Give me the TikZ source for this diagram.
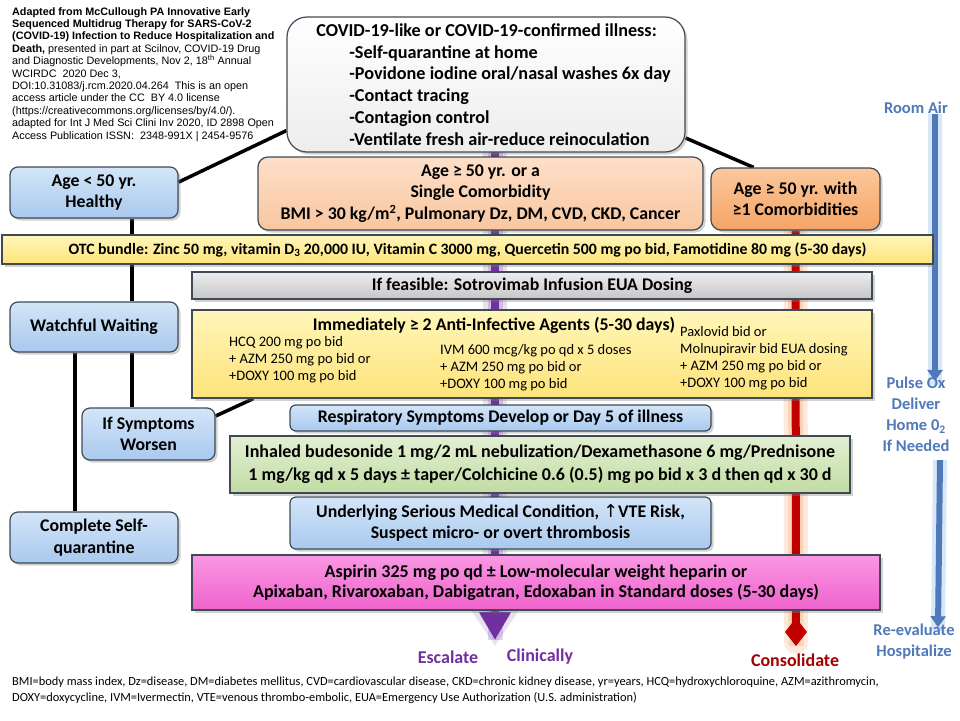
\documentclass[tikz,border=0pt]{standalone}
\usepackage{fontspec}
\setmainfont{Carlito}
\newfontfamily\arialfont{Liberation Sans}
\newfontfamily\symfont{DejaVu Sans}
\usetikzlibrary{arrows.meta,shadows,backgrounds,positioning}

\definecolor{boxline}{HTML}{3F4A55}
\definecolor{blueT}{HTML}{D3E5F8}
\definecolor{blueB}{HTML}{A9C9EE}
\definecolor{peachT}{HTML}{FDDFC8}
\definecolor{peachB}{HTML}{F9C6A0}
\definecolor{orangeT}{HTML}{FBC89C}
\definecolor{orangeB}{HTML}{F6A465}
\definecolor{yellowT}{HTML}{FFF6B8}
\definecolor{yellowB}{HTML}{FDE37A}
\definecolor{greyT}{HTML}{EDEDED}
\definecolor{greyB}{HTML}{C6C6C6}
\definecolor{greenT}{HTML}{E2EFD2}
\definecolor{greenB}{HTML}{C2DCA4}
\definecolor{pinkT}{HTML}{FA98E4}
\definecolor{pinkB}{HTML}{EE62CC}
\definecolor{escpurple}{HTML}{7030A0}
\definecolor{consred}{HTML}{C00000}
\definecolor{consglow}{HTML}{F7A262}
\definecolor{airblue}{HTML}{4F79B8}
\definecolor{airglow}{HTML}{9CC3EE}

\begin{document}
\begin{tikzpicture}[x=1pt,y=-1pt]
  \tikzstyle{every node}+=[inner sep=0pt]
  \tikzstyle{boxbase}=[draw=boxline, line width=1.2pt, align=center,
    font=\bfseries\fontsize{17.8}{21.5}\selectfont,
    drop shadow={opacity=0.35, shadow xshift=2.5pt, shadow yshift=-2.5pt}]
  \tikzstyle{bluebox}=[boxbase, rounded corners=8pt, top color=blueT, bottom color=blueB]
  \tikzstyle{peachbox}=[boxbase, rounded corners=10pt, top color=peachT, bottom color=peachB]
  \tikzstyle{orangebox}=[boxbase, rounded corners=10pt, top color=orangeT, bottom color=orangeB]
  \tikzstyle{yellowbar}=[boxbase, top color=yellowT, bottom color=yellowB]
  \tikzstyle{greybar}=[boxbase, top color=greyT, bottom color=greyB]
  \tikzstyle{greenbar}=[boxbase, top color=greenT, bottom color=greenB]
  \tikzstyle{pinkbar}=[boxbase, top color=pinkT, bottom color=pinkB]
  \tikzstyle{drugtext}=[align=left, font=\fontsize{14.5}{17}\selectfont, anchor=west]
  \tikzstyle{sidelabel}=[align=center, text=airblue, font=\bfseries\fontsize{16.5}{21}\selectfont]
  \tikzstyle{outcome}=[font=\bfseries\fontsize{18}{20}\selectfont]
  \tikzstyle{link}=[black, line width=3.5pt]

  \useasboundingbox (0,0) rectangle (960,720);

  % source note
  \node [anchor=north west, align=left, font=\arialfont\fontsize{10.8}{12.4}\selectfont] (source) at (12,7)
    {\textbf{Adapted from McCullough PA Innovative Early}\\
     \textbf{Sequenced Multidrug Therapy for SARS-CoV-2}\\
     \textbf{(COVID-19) Infection to Reduce Hospitalization and}\\
     \textbf{Death,} presented in part at Scilnov, COVID-19 Drug\\
     and Diagnostic Developments, Nov 2, 18\textsuperscript{th} Annual\\
     WCIRDC\ \ 2020 Dec 3,\\
     DOI:10.31083/j.rcm.2020.04.264\ \ This is an open\\
     access article under the CC\ \ BY 4.0 license\\
     (https://creativecommons.org/licenses/by/4.0/).\\
     adapted for Int J Med Sci Clini Inv 2020, ID 2898 Open\\
     Access Publication ISSN:\ \ 2348-991X | 2454-9576};

  % top box
  \node [boxbase, rounded corners=20pt, top color=white, bottom color=greyT, align=left,
    minimum width=398pt, minimum height=135pt, font=\bfseries\fontsize{18.2}{21.8}\selectfont] (illness) at (486,84.5)
    {\hspace*{15pt}COVID-19-like or COVID-19-confirmed illness:\\
     \hspace*{48pt}-Self-quarantine at home\\
     \hspace*{48pt}-Povidone iodine oral/nasal washes 6x day\\
     \hspace*{48pt}-Contact tracing\\
     \hspace*{48pt}-Contagion control\\
     \hspace*{48pt}-Ventilate fresh air-reduce reinoculation};

  % risk groups
  \node [bluebox, minimum width=168pt, minimum height=51pt] (young) at (94,192.5) {Age < 50 yr.\\Healthy};
  \node [peachbox, minimum width=445pt, minimum height=73pt] (single) at (480.5,193.5)
    {Age ≥ 50 yr. or a\\Single Comorbidity\\BMI > 30 kg/m\textsuperscript{2}, Pulmonary Dz, DM, CVD, CKD, Cancer};
  \node [orangebox, minimum width=169pt, minimum height=62pt] (multi) at (795.5,199) {Age ≥ 50 yr. with\\≥1 Comorbidities};

  % treatment steps
  \node [yellowbar, minimum width=931pt, minimum height=29pt, font=\bfseries\fontsize{15.8}{17}\selectfont] (otc) at (467.5,249.5)
    {OTC bundle: Zinc 50 mg, vitamin D\textsubscript{3} 20,000 IU, Vitamin C 3000 mg, Quercetin 500 mg po bid, Famotidine 80 mg (5-30 days)};
  \node [greybar, minimum width=680pt, minimum height=27pt] (sotro) at (532,285.5) {If feasible: Sotrovimab Infusion EUA Dosing};
  \node [bluebox, minimum width=168pt, minimum height=50pt] (watch) at (94,327) {Watchful Waiting};
  \node [yellowbar, minimum width=680pt, minimum height=88pt] (immed) at (532,354) {};
  \node [font=\bfseries\fontsize{17.8}{20}\selectfont] (agents) at (494,325) {Immediately ≥ 2 Anti-Infective Agents (5-30 days)};
  \node [drugtext] (hcq) at (229,360) {HCQ 200 mg po bid\\+ AZM 250 mg po bid or\\+DOXY 100 mg po bid};
  \node [drugtext] (ivm) at (440,367.5) {IVM 600 mcg/kg po qd x 5 doses\\+ AZM 250 mg po bid or\\+DOXY 100 mg po bid};
  \node [drugtext] (paxlovid) at (680,358.5) {Paxlovid bid or\\Molnupiravir bid EUA dosing\\+ AZM 250 mg po bid or\\+DOXY 100 mg po bid};
  \node [bluebox, minimum width=133pt, minimum height=52pt] (worse) at (148.5,434) {If Symptoms\\Worsen};
  \node [bluebox, rounded corners=6pt, minimum width=421pt, minimum height=26pt] (resp) at (500.5,418)
    {Respiratory Symptoms Develop or Day 5 of illness};
  \node [greenbar, minimum width=620pt, minimum height=57pt, font=\bfseries\fontsize{18}{23}\selectfont] (steroid) at (540,464.5)
    {Inhaled budesonide 1 mg/2 mL nebulization/Dexamethasone 6 mg/Prednisone\\
     1 mg/kg qd x 5\ days ± taper/Colchicine 0.6 (0.5) mg po bid x 3 d then qd x 30 d};
  \node [bluebox, rounded corners=6pt, minimum width=421pt, minimum height=52pt] (vte) at (500.5,523)
    {Underlying Serious Medical Condition, {\symfont\mdseries ↑}VTE Risk,\\Suspect micro- or overt thrombosis};
  \node [bluebox, minimum width=168pt, minimum height=51pt] (complete) at (94,537.5) {Complete Self-\\quarantine};
  \node [pinkbar, minimum width=688pt, minimum height=55pt, font=\bfseries\fontsize{18}{20.5}\selectfont] (aspirin) at (536,582.5)
    {Aspirin 325 mg po qd ± Low-molecular weight heparin or\\
     Apixaban, Rivaroxaban, Dabigatran, Edoxaban in Standard doses (5-30 days)};

  % outcome labels
  \node [outcome, text=escpurple] (escalate) at (448,657) {Escalate};
  \node [outcome, text=escpurple] (clinically) at (540,657) {Clinically};
  \node [outcome, text=consred!85!black] (consolidate) at (795,660) {Consolidate};
  \node [sidelabel] (roomair) at (916,108) {Room Air};
  \node [sidelabel] (pulseox) at (916,414.5) {Pulse Ox\\Deliver\\Home 0\textsubscript{2}\\If Needed};
  \node [sidelabel] (reeval) at (914,641) {Re-evaluate\\Hospitalize};

  % footnote
  \node [anchor=north west, align=left, font=\fontsize{12.4}{16}\selectfont] (abbrev) at (12,677)
    {BMI=body mass index, Dz=disease, DM=diabetes mellitus, CVD=cardiovascular disease, CKD=chronic kidney disease, yr=years, HCQ=hydroxychloroquine, AZM=azithromycin,\\
     DOXY=doxycycline, IVM=Ivermectin, VTE=venous thrombo-embolic, EUA=Emergency Use Authorization (U.S. administration)};

  \coordinate (esc start) at (495,152);
  \coordinate (esc tip) at (495,640);
  \coordinate (cons tip) at (796,646);

  \begin{pgfonlayer}{background}
    \fill [white] (0,0) rectangle (960,720);
    % branches
    \draw [link] (young.7) -- (illness.193);
    \draw [link] (illness.345) -- (multi.143);
    \draw [link] ([xshift=38pt]young.south) -- ([xshift=38pt]watch.north);
    \draw [link] ([xshift=38pt]watch.south) -- ([xshift=38pt]watch.south |- worse.north);
    \draw [link] ([xshift=-19pt]watch.south) -- ([xshift=-19pt]complete.north);
    \draw [link] (worse.15) -- ([xshift=62pt]immed.south west);
    % escalate
    \draw [escpurple, opacity=0.15, line width=24pt, -{Triangle[width=46pt,length=36pt]}] (esc start) -- ([yshift=-6pt]esc tip);
    \draw [escpurple, opacity=0.2, line width=15pt] (esc start) -- (esc tip);
    \draw [escpurple, line width=8pt, -{Triangle[width=30pt,length=28pt]}] (esc start) -- (esc tip);
    % consolidate
    \draw [consglow, opacity=0.22, line width=24pt, line cap=round] (multi.south) -- ([yshift=4pt]cons tip);
    \draw [consglow, opacity=0.3, line width=15pt] (multi.south) -- (cons tip);
    \draw [consred, line width=8pt, -{Diamond[width=22pt,length=28pt]}] (multi.south) -- (cons tip);
    % oxygen
    \draw [airglow, opacity=0.4, line width=14pt] ([xshift=19pt]roomair.south) -- ([xshift=19pt,yshift=-8pt]pulseox.north);
    \draw [airblue, line width=6pt, -{Triangle[width=15pt,length=11pt]}] ([xshift=19pt]roomair.south) -- ([xshift=19pt,yshift=-4pt]pulseox.north);
    \draw [airglow, opacity=0.4, line width=14pt] ([xshift=24pt,yshift=-8pt]pulseox.south) -- ([xshift=24pt,yshift=-8pt]reeval.north);
    \draw [airblue, line width=6pt, -{Triangle[width=15pt,length=11pt]}] ([xshift=24pt,yshift=-8pt]pulseox.south) -- ([xshift=24pt,yshift=-4pt]reeval.north);
  \end{pgfonlayer}
\end{tikzpicture}
\end{document}
